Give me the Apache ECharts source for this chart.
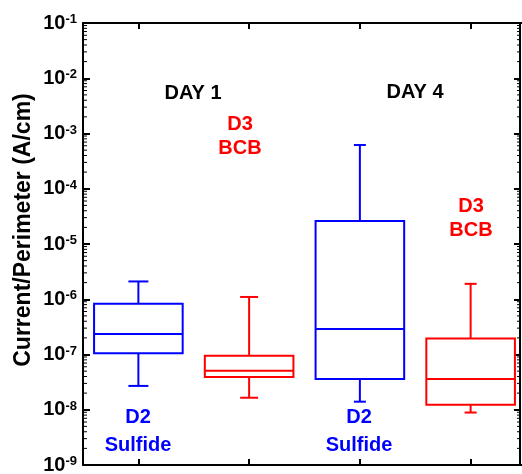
<!DOCTYPE html>
<html>
<head>
<meta charset="utf-8">
<script src="https://cdn.jsdelivr.net/npm/echarts@6/dist/echarts.min.js"></script>
<style>
  html, body { margin: 0; padding: 0; background: #fff; }
  #chart { width: 522px; height: 474px; }
</style>
</head>
<body>
<div id="chart"></div>
<script>
  // one box per sample group, values in A/cm
  var categories = ['D2 Day 1', 'D3 Day 1', 'D2 Day 4', 'D3 Day 4'];
  var whiskerLow = [2.7e-8, 1.65e-8, 1.4e-8, 8.9e-9];
  var boxLow = [1.05e-7, 3.9e-8, 3.6e-8, 1.23e-8];
  var medians = [2.35e-7, 5.1e-8, 2.9e-7, 3.6e-8];
  var boxHigh = [8.3e-7, 9.5e-8, 2.6e-5, 1.94e-7];
  var whiskerHigh = [2.1e-6, 1.1e-6, 6.2e-4, 1.9e-6];
  var yMin = 1e-9;
  var yMax = 1e-1;

  var boxColors = ['#0000ff', '#ff0000', '#0000ff', '#ff0000'];
  var capWidths = [20, 18, 12, 12];
  var FONT = '"Liberation Sans", Arial, sans-serif';
  var RIGHT_SHIFT = 6; // right axis sits a little inside the grid edge

  var boxData = categories.map(function (c, i) {
    return [i, whiskerLow[i], boxLow[i], medians[i], boxHigh[i], whiskerHigh[i]];
  });

  // minor ticks 2..9 of every decade
  var minorValues = [];
  for (var e = -9; e < -1; e++) {
    for (var k = 2; k <= 9; k++) {
      minorValues.push([0, k * Math.pow(10, e)]);
    }
  }

  function renderBox(params, api) {
    var i = api.value(0);
    var x = api.coord([i, api.value(3)])[0];
    var yLo = api.coord([i, api.value(1)])[1];
    var yQ1 = api.coord([i, api.value(2)])[1];
    var yMed = api.coord([i, api.value(3)])[1];
    var yQ3 = api.coord([i, api.value(4)])[1];
    var yHi = api.coord([i, api.value(5)])[1];
    var w = api.size([1, 0])[0] * 0.8;
    var cw = capWidths[i] / 2;
    var st = { stroke: boxColors[i], lineWidth: 2, fill: null };
    return {
      type: 'group',
      children: [
        { type: 'rect', shape: { x: x - w / 2, y: yQ3, width: w, height: yQ1 - yQ3 }, style: st },
        { type: 'line', shape: { x1: x - w / 2, y1: yMed, x2: x + w / 2, y2: yMed }, style: st },
        { type: 'line', shape: { x1: x, y1: yQ3, x2: x, y2: yHi }, style: st },
        { type: 'line', shape: { x1: x - cw, y1: yHi, x2: x + cw, y2: yHi }, style: st },
        { type: 'line', shape: { x1: x, y1: yQ1, x2: x, y2: yLo }, style: st },
        { type: 'line', shape: { x1: x - cw, y1: yLo, x2: x + cw, y2: yLo }, style: st }
      ]
    };
  }

  function renderMinor(params, api) {
    var cs = params.coordSys;
    var y = api.coord([0, api.value(1)])[1];
    var xl = cs.x;
    var xr = cs.x + cs.width - RIGHT_SHIFT;
    var st = { stroke: '#000', lineWidth: 1 };
    return {
      type: 'group',
      children: [
        { type: 'line', shape: { x1: xl, y1: y, x2: xl + 4, y2: y }, style: st },
        { type: 'line', shape: { x1: xr, y1: y, x2: xr - 3, y2: y }, style: st }
      ]
    };
  }

  var yAxisBase = {
    type: 'log',
    logBase: 10,
    min: yMin,
    max: yMax,
    interval: 1,
    splitLine: { show: false },
    axisLine: { show: true, lineStyle: { color: '#000', width: 2 } },
    axisTick: { show: true, inside: true, length: 7, lineStyle: { color: '#000', width: 2 } }
  };

  var xAxisBase = {
    type: 'category',
    data: categories,
    axisLine: { show: true, lineStyle: { color: '#000', width: 2 } },
    axisTick: { show: true, inside: true, alignWithLabel: true, length: 6, lineStyle: { color: '#000', width: 2 } },
    axisLabel: { show: false },
    splitLine: { show: false }
  };

  var option = {
    animation: false,
    backgroundColor: '#fff',
    grid: { left: 83, width: 443, top: 23, bottom: 9, outerBoundsMode: 'none' },
    xAxis: [
      Object.assign({}, xAxisBase, { position: 'bottom' }),
      Object.assign({}, xAxisBase, { position: 'top' })
    ],
    yAxis: [
      Object.assign({}, yAxisBase, {
        position: 'left',
        axisLabel: {
          margin: 6,
          formatter: function (v) {
            var e = Math.round(Math.log(v) / Math.LN10);
            return '{b|10}{s|' + e + '}';
          },
          rich: {
            b: { fontFamily: FONT, fontWeight: 'bold', fontSize: 20, color: '#000' },
            s: { fontFamily: FONT, fontWeight: 'bold', fontSize: 13, color: '#000', verticalAlign: 'top' }
          }
        }
      }),
      Object.assign({}, yAxisBase, {
        position: 'right',
        offset: -RIGHT_SHIFT,
        axisTick: { show: true, inside: true, length: 6, lineStyle: { color: '#000', width: 2 } },
        axisLabel: { show: false }
      })
    ],
    series: [
      {
        type: 'custom',
        renderItem: renderMinor,
        data: minorValues,
        encode: { x: 0, y: 1 },
        silent: true,
        z: 1
      },
      {
        type: 'custom',
        renderItem: renderBox,
        data: boxData,
        encode: { x: 0, y: [1, 2, 3, 4, 5] },
        z: 2
      }
    ],
    graphic: [
      { type: 'text', x: 24, y: 230, rotation: Math.PI / 2, style: { text: 'Current/Perimeter (A/cm)', fill: '#000', font: 'bold 23px ' + FONT, align: 'center', verticalAlign: 'middle' } },
      { type: 'text', x: 193, y: 93, style: { text: 'DAY 1', fill: '#000', font: 'bold 20px ' + FONT, align: 'center', verticalAlign: 'middle' } },
      { type: 'text', x: 415, y: 92, style: { text: 'DAY 4', fill: '#000', font: 'bold 20px ' + FONT, align: 'center', verticalAlign: 'middle' } },
      { type: 'text', x: 240, y: 136, style: { text: 'D3\nBCB', fill: '#ff0000', font: 'bold 20px ' + FONT, lineHeight: 24, align: 'center', verticalAlign: 'middle' } },
      { type: 'text', x: 471, y: 218, style: { text: 'D3\nBCB', fill: '#ff0000', font: 'bold 20px ' + FONT, lineHeight: 24, align: 'center', verticalAlign: 'middle' } },
      { type: 'text', x: 138, y: 431, style: { text: 'D2\nSulfide', fill: '#0000ff', font: 'bold 20px ' + FONT, lineHeight: 28, align: 'center', verticalAlign: 'middle' } },
      { type: 'text', x: 359, y: 431, style: { text: 'D2\nSulfide', fill: '#0000ff', font: 'bold 20px ' + FONT, lineHeight: 28, align: 'center', verticalAlign: 'middle' } }
    ]
  };

  var chart = echarts.init(document.getElementById('chart'));
  chart.setOption(option);
</script>
</body>
</html>
